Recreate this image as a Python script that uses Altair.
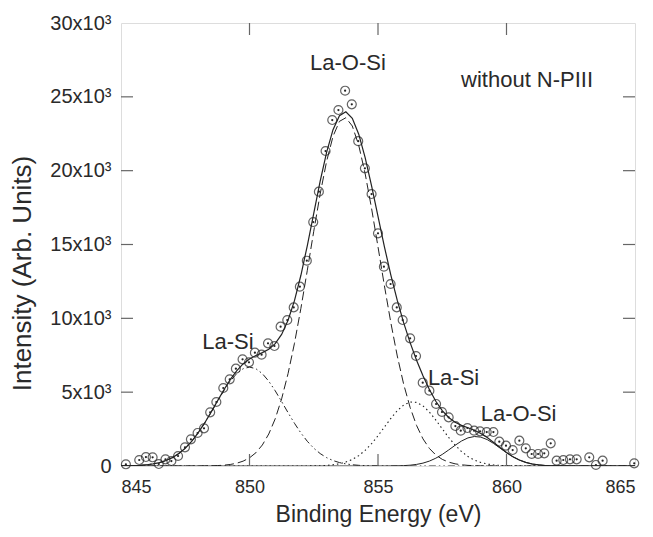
import altair as alt
import pandas as pd

# measured XPS points (binding energy, intensity)
energy_pts = [845.19, 845.71, 845.97, 846.23, 846.47, 846.73, 846.96, 847.22, 847.49, 847.72,
              847.98, 848.23, 848.47, 848.71, 848.98, 849.23, 849.47, 849.73, 849.98, 850.21,
              850.47, 850.72, 850.97, 851.21, 851.47, 851.72, 851.96, 852.23, 852.48, 852.70,
              852.96, 853.22, 853.46, 853.72, 853.98, 854.23, 854.49, 854.75, 855.00, 855.23,
              855.49, 855.73, 855.96, 856.25, 856.48, 856.74, 857.00, 857.26, 857.49, 857.75,
              858.01, 858.22, 858.48, 858.74, 858.97, 859.23, 859.49, 859.72, 859.98, 860.24,
              860.50, 860.75, 860.98, 861.23, 861.47, 861.72, 861.95, 862.21, 862.47, 862.73,
              863.22, 863.48, 863.74, 864.97]
intensity_pts = [115, 406, 609, 589, 135, 450, 338, 677, 1264, 1806,
                 2235, 2551, 3634, 4334, 5282, 5868, 6592, 7223, 7020, 7675,
                 7540, 8306, 8126, 9435, 9886, 10742, 12143, 13903, 16521, 18576,
                 21331, 23430, 24107, 25415, 24493, 21999, 20160, 18419, 15757, 13497,
                 12325, 10742, 9886, 8645, 7449, 5641, 5100, 4199, 3657, 3295,
                 2708, 2392, 2573, 2392, 2347, 2302, 2302, 1648, 1377, 1083,
                 1715, 1196, 813, 813, 858, 1535, 361, 406, 451, 451,
                 587, 68, 361, 180]

# fitted components, read on a 0.25 eV grid
grid = [845.0, 845.25, 845.5, 845.75, 846.0, 846.25, 846.5, 846.75, 847.0, 847.25,
        847.5, 847.75, 848.0, 848.25, 848.5, 848.75, 849.0, 849.25, 849.5, 849.75,
        850.0, 850.25, 850.5, 850.75, 851.0, 851.25, 851.5, 851.75, 852.0, 852.25,
        852.5, 852.75, 853.0, 853.25, 853.5, 853.75, 854.0, 854.25, 854.5, 854.75,
        855.0, 855.25, 855.5, 855.75, 856.0, 856.25, 856.5, 856.75, 857.0, 857.25,
        857.5, 857.75, 858.0, 858.25, 858.5, 858.75, 859.0, 859.25, 859.5, 859.75,
        860.0, 860.25, 860.5, 860.75, 861.0, 861.25, 861.5, 861.75, 862.0, 862.25,
        862.5, 862.75, 863.0, 863.25, 863.5, 863.75, 864.0, 864.25, 864.5, 864.75, 865.0]
la_o_si_main = [0, 0, 0, 0, 0, 0, 0, 0, 0, 0,
                0, 1, 3, 7, 14, 28, 55, 103, 187, 327,
                552, 901, 1423, 2169, 3194, 4548, 6255, 8311, 10679, 13257,
                15897, 18424, 20631, 22324, 23340, 23584, 23024, 21721, 19800, 17440,
                14844, 12201, 9700, 7451, 5529, 3965, 2747, 1838, 1189, 744,
                449, 262, 148, 80, 42, 21, 11, 5, 2, 0,
                0, 0, 0, 0, 0, 0, 0, 0, 0, 0,
                0, 0, 0, 0, 0, 0, 0, 0, 0, 0, 0]
la_si_low = [7, 14, 26, 47, 83, 142, 232, 369, 567, 842,
             1206, 1671, 2236, 2892, 3614, 4364, 5093, 5742, 6256, 6586,
             6700, 6586, 6256, 5742, 5093, 4364, 3614, 2892, 2236, 1671,
             1206, 842, 567, 369, 232, 142, 83, 47, 26, 14,
             7, 3, 1, 0, 0, 0, 0, 0, 0, 0,
             0, 0, 0, 0, 0, 0, 0, 0, 0, 0,
             0, 0, 0, 0, 0, 0, 0, 0, 0, 0,
             0, 0, 0, 0, 0, 0, 0, 0, 0, 0, 0]
la_si_high = [0, 0, 0, 0, 0, 0, 0, 0, 0, 0,
              0, 0, 0, 0, 0, 0, 0, 0, 0, 0,
              0, 0, 0, 0, 0, 0, 0, 0, 2, 4,
              9, 21, 42, 82, 152, 266, 444, 703, 1058, 1510,
              2048, 2638, 3227, 3749, 4135, 4332, 4310, 4072, 3653, 3113,
              2519, 1935, 1412, 979, 644, 402, 239, 135, 72, 37,
              18, 8, 4, 2, 0, 0, 0, 0, 0, 0,
              0, 0, 0, 0, 0, 0, 0, 0, 0, 0, 0]
la_o_si_high = [0, 0, 0, 0, 0, 0, 0, 0, 0, 0,
                0, 0, 0, 0, 0, 0, 0, 0, 0, 0,
                0, 0, 0, 0, 0, 0, 0, 0, 0, 0,
                0, 0, 0, 0, 0, 0, 0, 0, 0, 0,
                0, 2, 5, 12, 26, 55, 107, 195, 332, 528,
                784, 1086, 1403, 1691, 1903, 1997, 1956, 1788, 1524, 1213,
                901, 624, 403, 243, 137, 72, 35, 16, 7, 3,
                1, 0, 0, 0, 0, 0, 0, 0, 0, 0, 0]
envelope = [7, 14, 26, 47, 83, 142, 232, 369, 567, 842,
            1206, 1672, 2239, 2899, 3628, 4392, 5148, 5845, 6443, 6913,
            7252, 7487, 7679, 7911, 8287, 8912, 9869, 11203, 12917, 14932,
            17112, 19287, 21240, 22775, 23724, 23992, 23551, 22471, 20884, 18964,
            16899, 14844, 12933, 11212, 9690, 8352, 7164, 6105, 5174, 4385,
            3752, 3283, 2963, 2750, 2589, 2420, 2206, 1928, 1598, 1250,
            919, 632, 407, 245, 137, 72, 35, 16, 7, 3,
            1, 0, 0, 0, 0, 0, 0, 0, 0, 0, 0]

# annotations
ann_text = ["La-O-Si", "without N-PIII", "La-Si", "La-Si", "La-O-Si"]
ann_x = [853.83, 860.8, 849.16, 857.94, 860.47]
ann_y = [27290, 26140, 8417, 5959, 3521]

x_ticks = [845, 850, 855, 860, 865]
y_ticks = [0, 5000, 10000, 15000, 20000, 25000, 30000]
inner_x_ticks = [850, 855, 860]
inner_y_ticks = [5000, 10000, 15000, 20000, 25000]

W, H = 514, 443
FONT = "Liberation Sans"
INK = "#222222"
TXT = "#2a2a2a"

xs = alt.Scale(domain=[845, 865], nice=False, zero=False)
ys = alt.Scale(domain=[0, 30000], nice=False)

pts = pd.DataFrame({"E": energy_pts, "I": intensity_pts})
curves = pd.DataFrame({"E": grid, "A": la_o_si_main, "B": la_si_low,
                       "C": la_si_high, "D": la_o_si_high, "S": envelope})
ann = pd.DataFrame({"t": ann_text, "E": ann_x, "I": ann_y})
tx = pd.DataFrame({"v": inner_x_ticks})
ty = pd.DataFrame({"v": inner_y_ticks})

xaxis = alt.Axis(values=x_ticks, ticks=False, domain=False, grid=False,
                 labelFontSize=18, labelFont=FONT, labelColor=TXT, labelPadding=12,
                 title="Binding Energy (eV)", titleFontSize=23, titleFont=FONT,
                 titleFontWeight="normal", titleColor=TXT,
                 titleY=55, titleBaseline="alphabetic")
yaxis = alt.Axis(values=y_ticks, ticks=False, domain=False, grid=False,
                 labelFontSize=20, labelFont=FONT, labelColor=TXT, labelPadding=10,
                 labelExpr="datum.value == 0 ? '0' : format(datum.value / 1000, 'd') + 'x10³'",
                 title="Intensity (Arb. Units)", titleFontSize=26, titleFont=FONT,
                 titleFontWeight="normal", titleColor=TXT,
                 titleX=-91, titleY=250, titleAngle=270, titleBaseline="alphabetic",
                 titleAlign="center")

base = alt.Chart(curves)

env = base.mark_line(color=INK, strokeWidth=1.2, clip=True).encode(
    x=alt.X("E:Q", scale=xs, axis=xaxis), y=alt.Y("S:Q", scale=ys, axis=yaxis))
comp_a = base.mark_line(color=INK, strokeWidth=1, strokeDash=[9, 4], clip=True).encode(
    x=alt.X("E:Q", scale=xs), y=alt.Y("A:Q", scale=ys))
comp_b = base.mark_line(color=INK, strokeWidth=1, strokeDash=[7, 3, 1.5, 3, 1.5, 3], clip=True).encode(
    x=alt.X("E:Q", scale=xs), y=alt.Y("B:Q", scale=ys))
comp_c = base.mark_line(color=INK, strokeWidth=1.1, strokeDash=[1.5, 3], clip=True).encode(
    x=alt.X("E:Q", scale=xs), y=alt.Y("C:Q", scale=ys))
comp_d = base.mark_line(color=INK, strokeWidth=1, clip=True).encode(
    x=alt.X("E:Q", scale=xs), y=alt.Y("D:Q", scale=ys))

rings = alt.Chart(pts).mark_point(shape="circle", filled=False, size=80, color=INK,
                                  strokeWidth=1.2).encode(
    x=alt.X("E:Q", scale=xs), y=alt.Y("I:Q", scale=ys))
dots = alt.Chart(pts).mark_circle(size=5, color=INK, opacity=1).encode(
    x=alt.X("E:Q", scale=xs), y=alt.Y("I:Q", scale=ys))

labels = alt.Chart(ann).mark_text(font=FONT, fontSize=22, color=TXT,
                                  align="center", baseline="middle").encode(
    x=alt.X("E:Q", scale=xs), y=alt.Y("I:Q", scale=ys), text="t:N")

tick_col = "#666666"
left_t = alt.Chart(ty).mark_rule(color=tick_col, strokeWidth=1.2).encode(
    y=alt.Y("v:Q", scale=ys), x=alt.value(0), x2=alt.value(12))
right_t = alt.Chart(ty).mark_rule(color=tick_col, strokeWidth=1.2).encode(
    y=alt.Y("v:Q", scale=ys), x=alt.value(W - 12), x2=alt.value(W))
bottom_t = alt.Chart(tx).mark_rule(color=tick_col, strokeWidth=1.2).encode(
    x=alt.X("v:Q", scale=xs), y=alt.value(H - 12), y2=alt.value(H))
top_t = alt.Chart(tx).mark_rule(color=tick_col, strokeWidth=1.2).encode(
    x=alt.X("v:Q", scale=xs), y=alt.value(0), y2=alt.value(12))

chart = alt.layer(env, comp_a, comp_b, comp_c, comp_d, left_t, right_t, bottom_t, top_t,
                  rings, dots, labels).properties(
    width=W, height=H,
    padding={"left": 113, "top": 15, "right": 10, "bottom": 62},
    autosize=alt.AutoSizeParams(type="none"),
).configure_view(stroke="#333333", strokeWidth=1.2).configure(background="white")

chart.save("out.html", embed_options={"renderer": "svg", "actions": False})
